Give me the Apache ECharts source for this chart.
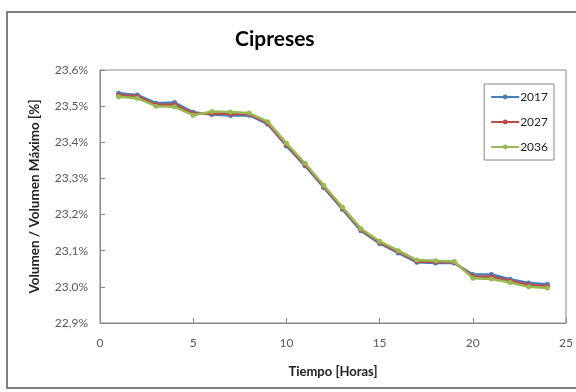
<!DOCTYPE html>
<html>
<head>
<meta charset="utf-8">
<script src="https://cdn.jsdelivr.net/npm/echarts@6/dist/echarts.min.js"></script>
<style>
  html, body { margin: 0; padding: 0; background: #fff; }
  #main { width: 576px; height: 392px; }
</style>
</head>
<body>
<div id="main"></div>
<script>
// hours 1..24
const horas = [1,2,3,4,5,6,7,8,9,10,11,12,13,14,15,16,17,18,19,20,21,22,23,24];
const v2017 = [23.536,23.531,23.508,23.510,23.483,23.477,23.474,23.475,23.450,23.390,23.335,23.275,23.215,23.155,23.120,23.094,23.068,23.066,23.066,23.034,23.034,23.021,23.011,23.007];
const v2027 = [23.531,23.527,23.504,23.504,23.479,23.480,23.478,23.478,23.453,23.393,23.338,23.278,23.218,23.158,23.123,23.097,23.071,23.069,23.068,23.029,23.028,23.017,23.005,23.002];
const v2036 = [23.526,23.522,23.500,23.498,23.475,23.485,23.484,23.481,23.457,23.397,23.342,23.281,23.221,23.161,23.126,23.100,23.074,23.072,23.070,23.024,23.022,23.012,23.000,22.997];
const seriesNames = ["2017", "2027", "2036"];
const colors = ["#4a7ebb", "#be4b48", "#98b954"];

const myChart = echarts.init(document.getElementById("main"));

const toPairs = (vals) => horas.map((h, i) => [h, vals[i]]);
const seriesList = [v2017, v2027, v2036].map((vals, i) => ({
  type: "line",
  name: seriesNames[i],
  data: toPairs(vals),
  symbol: "circle",
  symbolSize: 5,
  lineStyle: { width: 2.5, color: colors[i] },
  itemStyle: { color: colors[i] },
  z: 2 + i,
}));

const option = {
  animation: false,
  backgroundColor: "#fff",
  textStyle: { fontFamily: "Lato" },
  title: {
    text: "Cipreses",
    left: 230,
    top: 24,
    textStyle: { fontSize: 21, fontWeight: "bold", color: "#000", fontFamily: "Lato" },
  },
  graphic: [
    {
      type: "rect",
      shape: { x: 7, y: 12, width: 600, height: 376 },
      style: { fill: null, stroke: "#808080", lineWidth: 2 },
      z: -1,
    },
  ],
  legend: {
    orient: "vertical",
    right: 22,
    top: 84,
    itemGap: 13,
    itemWidth: 28,
    itemHeight: 6,
    padding: [7, 6, 7, 6],
    borderColor: "#888",
    borderWidth: 1,
    textStyle: { fontSize: 12, color: "#222", fontFamily: "Lato", padding: [0, 0, 0, -4] },
    data: seriesNames,
  },
  grid: {
    left: 100,
    right: 10,
    top: 70,
    bottom: 69,
    show: true,
    borderColor: "#888",
    borderWidth: 1,
  },
  xAxis: {
    type: "value",
    min: 0,
    max: 25,
    interval: 5,
    name: "Tiempo [Horas]",
    nameLocation: "middle",
    nameGap: 42,
    nameTextStyle: { fontSize: 13, fontWeight: "bold", color: "#222" },
    axisLine: { lineStyle: { color: "#888" } },
    axisTick: { inside: true, length: 5, lineStyle: { color: "#888" } },
    axisLabel: { fontSize: 12, color: "#595959", margin: 14 },
    splitLine: { show: false },
  },
  yAxis: {
    type: "value",
    min: 22.9,
    max: 23.6,
    interval: 0.1,
    name: "Volumen / Volumen Máximo [%]",
    nameLocation: "middle",
    nameGap: 58,
    nameTextStyle: { fontSize: 13.5, fontWeight: "bold", color: "#222" },
    axisLine: { show: true, lineStyle: { color: "#888" } },
    axisTick: { show: true, inside: true, length: 5, lineStyle: { color: "#888" } },
    axisLabel: {
      fontSize: 12,
      color: "#595959",
      margin: 12,
      formatter: (v) => v.toFixed(1).replace(".", ",") + "%",
    },
    splitLine: { show: false },
  },
  series: seriesList,
};

myChart.setOption(option);
</script>
</body>
</html>
